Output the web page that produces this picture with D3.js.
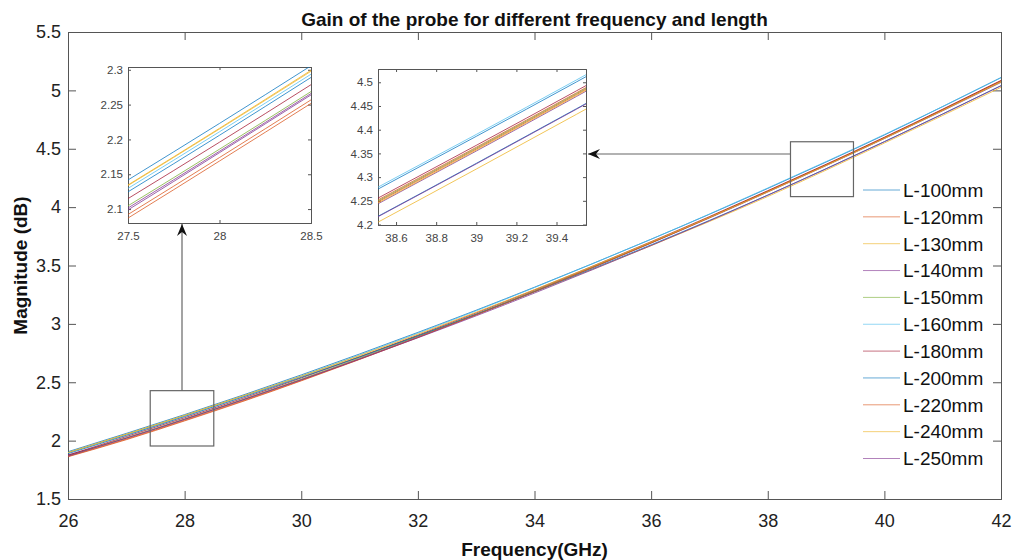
<!DOCTYPE html>
<html>
<head>
<meta charset="utf-8">
<script src="https://cdn.jsdelivr.net/npm/d3@7"></script>
<style>
  html, body { margin: 0; padding: 0; background: #fff; }
  svg { display: block; font-family: "Liberation Sans", Arial, sans-serif; }
</style>
</head>
<body>
<svg id="chart" width="1023" height="560"></svg>
<script>
// Frequency samples (GHz)
const freq = [26, 27, 28, 29, 30, 31, 32, 33, 34, 35, 36, 37, 38, 39, 40, 41, 42];

// Gain (dB) per probe length
const L100 = [1.905, 2.062, 2.223, 2.390, 2.563, 2.742, 2.927, 3.117, 3.314, 3.517, 3.725, 3.939, 4.160, 4.386, 4.618, 4.861, 5.110];
const L120 = [1.862, 2.008, 2.169, 2.336, 2.512, 2.695, 2.883, 3.077, 3.277, 3.484, 3.695, 3.913, 4.137, 4.363, 4.595, 4.836, 5.083];
const L130 = [1.898, 2.055, 2.216, 2.383, 2.549, 2.721, 2.899, 3.082, 3.273, 3.469, 3.670, 3.877, 4.091, 4.317, 4.549, 4.785, 5.026];
const L140 = [1.877, 2.020, 2.181, 2.348, 2.522, 2.702, 2.889, 3.080, 3.278, 3.482, 3.692, 3.907, 4.129, 4.355, 4.587, 4.825, 5.068];
const L150 = [1.870, 2.025, 2.186, 2.353, 2.527, 2.708, 2.894, 3.085, 3.284, 3.488, 3.697, 3.913, 4.135, 4.361, 4.593, 4.832, 5.076];
const L160 = [1.895, 2.050, 2.211, 2.378, 2.553, 2.734, 2.920, 3.112, 3.311, 3.516, 3.725, 3.941, 4.164, 4.390, 4.622, 4.862, 5.108];
const L180 = [1.875, 2.035, 2.196, 2.363, 2.537, 2.717, 2.903, 3.094, 3.291, 3.495, 3.704, 3.919, 4.141, 4.367, 4.599, 4.839, 5.085];
const L200 = [1.888, 2.045, 2.206, 2.373, 2.542, 2.716, 2.897, 3.082, 3.275, 3.473, 3.677, 3.886, 4.103, 4.329, 4.561, 4.798, 5.041];
const L220 = [1.865, 2.013, 2.174, 2.341, 2.516, 2.698, 2.885, 3.078, 3.277, 3.483, 3.693, 3.910, 4.133, 4.359, 4.591, 4.830, 5.075];
const L240 = [1.897, 2.054, 2.215, 2.382, 2.553, 2.729, 2.912, 3.100, 3.294, 3.495, 3.701, 3.912, 4.131, 4.357, 4.589, 4.828, 5.073];
const L250 = [1.868, 2.022, 2.183, 2.350, 2.521, 2.698, 2.881, 3.069, 3.264, 3.465, 3.671, 3.883, 4.102, 4.328, 4.560, 4.797, 5.039];

const seriesNames = ["L-100mm", "L-120mm", "L-130mm", "L-140mm", "L-150mm", "L-160mm",
                     "L-180mm", "L-200mm", "L-220mm", "L-240mm", "L-250mm"];
const seriesValues = [L100, L120, L130, L140, L150, L160, L180, L200, L220, L240, L250];
const seriesColors = ["#0072BD", "#D95319", "#EDB120", "#7E2F8E", "#77AC30", "#4DBEEE",
                      "#A2142F", "#0072BD", "#D95319", "#EDB120", "#7E2F8E"];

// Axis ticks
const xTicks = [26, 28, 30, 32, 34, 36, 38, 40, 42];
const yTicks = [1.5, 2, 2.5, 3, 3.5, 4, 4.5, 5, 5.5];
const zoomAXTicks = [27.5, 28, 28.5];
const zoomAYTicks = [2.1, 2.15, 2.2, 2.25, 2.3];
const zoomBXTicks = [38.6, 38.8, 39, 39.2, 39.4];
const zoomBYTicks = [4.2, 4.25, 4.3, 4.35, 4.4, 4.45, 4.5];

// Zoom regions marked on the main plot: [f0, f1, g0, g1]
const boxA = [27.41, 28.5, 1.954, 2.428];
const boxB = [38.39, 39.47, 4.09, 4.56];
const arrowBLevel = 4.455;

const svg = d3.select("#chart");
const AX = "#555";
const FONT = "'Liberation Sans', Arial, sans-serif";

const main = { left: 68, right: 1001, top: 32, bottom: 499 };
const x = d3.scaleLinear().domain([26, 42]).range([main.left, main.right]);
const y = d3.scaleLinear().domain([1.5, 5.5]).range([main.bottom, main.top]);

const series = seriesNames.map((name, i) => ({
  name, color: seriesColors[i],
  pts: freq.map((f, j) => [f, seriesValues[i][j]])
}));

const defs = svg.append("defs");
function clipRect(id, r) {
  defs.append("clipPath").attr("id", id).append("rect")
    .attr("x", r.left).attr("y", r.top)
    .attr("width", r.right - r.left).attr("height", r.bottom - r.top);
}
clipRect("clipMain", main);

defs.append("marker").attr("id", "head")
  .attr("viewBox", "0 0 12 10").attr("refX", 12).attr("refY", 5)
  .attr("markerWidth", 12).attr("markerHeight", 10)
  .attr("markerUnits", "userSpaceOnUse").attr("orient", "auto")
  .append("path").attr("d", "M0,0 L12,5 L0,10 L4,5 Z").attr("fill", "#111");

// Draws a boxed axes with inward ticks on all four sides.
function drawAxes(g, r, xs, ys, xt, yt, opt) {
  const tl = opt.tick;
  g.append("rect").attr("x", r.left).attr("y", r.top)
    .attr("width", r.right - r.left).attr("height", r.bottom - r.top)
    .attr("fill", opt.fill || "none").attr("stroke", "none");

  const axB = d3.axisBottom(xs).tickValues(xt).tickSize(-tl).tickPadding(opt.xpad).tickFormat(d3.format(""));
  const axT = d3.axisTop(xs).tickValues(xt).tickSize(-tl).tickFormat("");
  const axL = d3.axisLeft(ys).tickValues(yt).tickSize(-tl).tickPadding(opt.ypad).tickFormat(d3.format(""));
  const axR = d3.axisRight(ys).tickValues(yt).tickSize(-tl).tickFormat("");

  const parts = [
    g.append("g").attr("transform", `translate(0,${r.bottom})`).call(axB),
    g.append("g").attr("transform", `translate(0,${r.top})`).call(axT),
    g.append("g").attr("transform", `translate(${r.left},0)`).call(axL),
    g.append("g").attr("transform", `translate(${r.right},0)`).call(axR)
  ];
  parts.forEach(p => {
    p.select(".domain").attr("stroke", AX).attr("stroke-width", 1);
    p.selectAll(".tick line").attr("stroke", AX).attr("stroke-width", 1);
    p.selectAll(".tick text").attr("fill", "#222")
      .style("font-family", FONT).style("font-size", opt.font + "px");
  });
  return parts;
}

function drawLines(g, xs, ys, clipId) {
  const line = d3.line().x(d => xs(d[0])).y(d => ys(d[1])).curve(d3.curveNatural);
  g.append("g").attr("clip-path", `url(#${clipId})`)
    .selectAll("path").data(series).join("path")
    .attr("d", d => line(d.pts))
    .attr("fill", "none")
    .attr("stroke", d => d.color)
    .attr("stroke-width", 1)
    .attr("stroke-opacity", 0.75);
}

// Main axes
const gMain = svg.append("g");
drawAxes(gMain, main, x, y, xTicks, yTicks, { tick: 8, font: 18, xpad: 15, ypad: 7 });
drawLines(gMain, x, y, "clipMain");

// Zoom boxes on main plot
function boxRect(b) {
  return { x0: x(b[0]), x1: x(b[1]), y0: y(b[3]), y1: y(b[2]) };
}
[boxA, boxB].forEach(b => {
  const r = boxRect(b);
  gMain.append("rect").attr("x", r.x0).attr("y", r.y0)
    .attr("width", r.x1 - r.x0).attr("height", r.y1 - r.y0)
    .attr("fill", "none").attr("stroke", "#666").attr("stroke-width", 1.2);
});

// Insets
const insetA = { left: 128, right: 311, top: 67, bottom: 223 };
const insetB = { left: 378, right: 586, top: 69, bottom: 225 };
const xa = d3.scaleLinear().domain([27.5, 28.5]).range([insetA.left, insetA.right]);
const ya = d3.scaleLinear().domain([2.08, 2.304]).range([insetA.bottom, insetA.top]);
const xb = d3.scaleLinear().domain([38.51, 39.547]).range([insetB.left, insetB.right]);
const yb = d3.scaleLinear().domain([4.199, 4.528]).range([insetB.bottom, insetB.top]);
clipRect("clipA", insetA);
clipRect("clipB", insetB);

const gA = svg.append("g");
const gB = svg.append("g");
const ia = drawAxes(gA, insetA, xa, ya, zoomAXTicks, zoomAYTicks, { tick: 3, font: 11.5, xpad: 9, ypad: 5, fill: "#fff" });
const ib = drawAxes(gB, insetB, xb, yb, zoomBXTicks, zoomBYTicks, { tick: 3, font: 11.5, xpad: 9, ypad: 5, fill: "#fff" });
[ia, ib].forEach(p => p.forEach(a => a.selectAll(".tick text").attr("fill", "#444")));
drawLines(gA, xa, ya, "clipA");
drawLines(gB, xb, yb, "clipB");

// Arrows from the marked regions to their insets
const rA = boxRect(boxA), rB = boxRect(boxB);
const axA = (rA.x0 + rA.x1) / 2;
svg.append("line")
  .attr("x1", axA).attr("y1", rA.y0)
  .attr("x2", axA).attr("y2", insetA.bottom + 1)
  .attr("stroke", "#666").attr("stroke-width", 1.2)
  .attr("marker-end", "url(#head)");
svg.append("line")
  .attr("x1", rB.x0).attr("y1", y(arrowBLevel))
  .attr("x2", insetB.right + 2).attr("y2", y(arrowBLevel))
  .attr("stroke", "#666").attr("stroke-width", 1.2)
  .attr("marker-end", "url(#head)");

// Legend
const legend = svg.append("g").attr("transform", "translate(863,190)");
const legItems = legend.selectAll("g").data(series).join("g")
  .attr("transform", (d, i) => `translate(0,${i * 26.85})`);
legItems.append("line").attr("x1", 0).attr("x2", 37).attr("y1", 0).attr("y2", 0)
  .attr("stroke", d => d.color).attr("stroke-width", 1).attr("stroke-opacity", 0.6);
legItems.append("text").attr("x", 40).attr("y", 0).attr("dy", "0.36em")
  .style("font-family", FONT).style("font-size", "19px").attr("fill", "#111")
  .text(d => d.name);

// Title and axis labels
svg.append("text").attr("x", (main.left + main.right) / 2).attr("y", 26)
  .attr("text-anchor", "middle").style("font-family", FONT)
  .style("font-size", "19px").style("font-weight", "bold").attr("fill", "#111")
  .text("Gain of the probe for different frequency and length");
svg.append("text").attr("x", (main.left + main.right) / 2).attr("y", 556)
  .attr("text-anchor", "middle").style("font-family", FONT)
  .style("font-size", "19px").style("font-weight", "bold").attr("fill", "#111")
  .text("Frequency(GHz)");
svg.append("text")
  .attr("transform", `translate(27,${(main.top + main.bottom) / 2}) rotate(-90)`)
  .attr("text-anchor", "middle").style("font-family", FONT)
  .style("font-size", "19px").style("font-weight", "bold").attr("fill", "#111")
  .text("Magnitude (dB)");
</script>
</body>
</html>
